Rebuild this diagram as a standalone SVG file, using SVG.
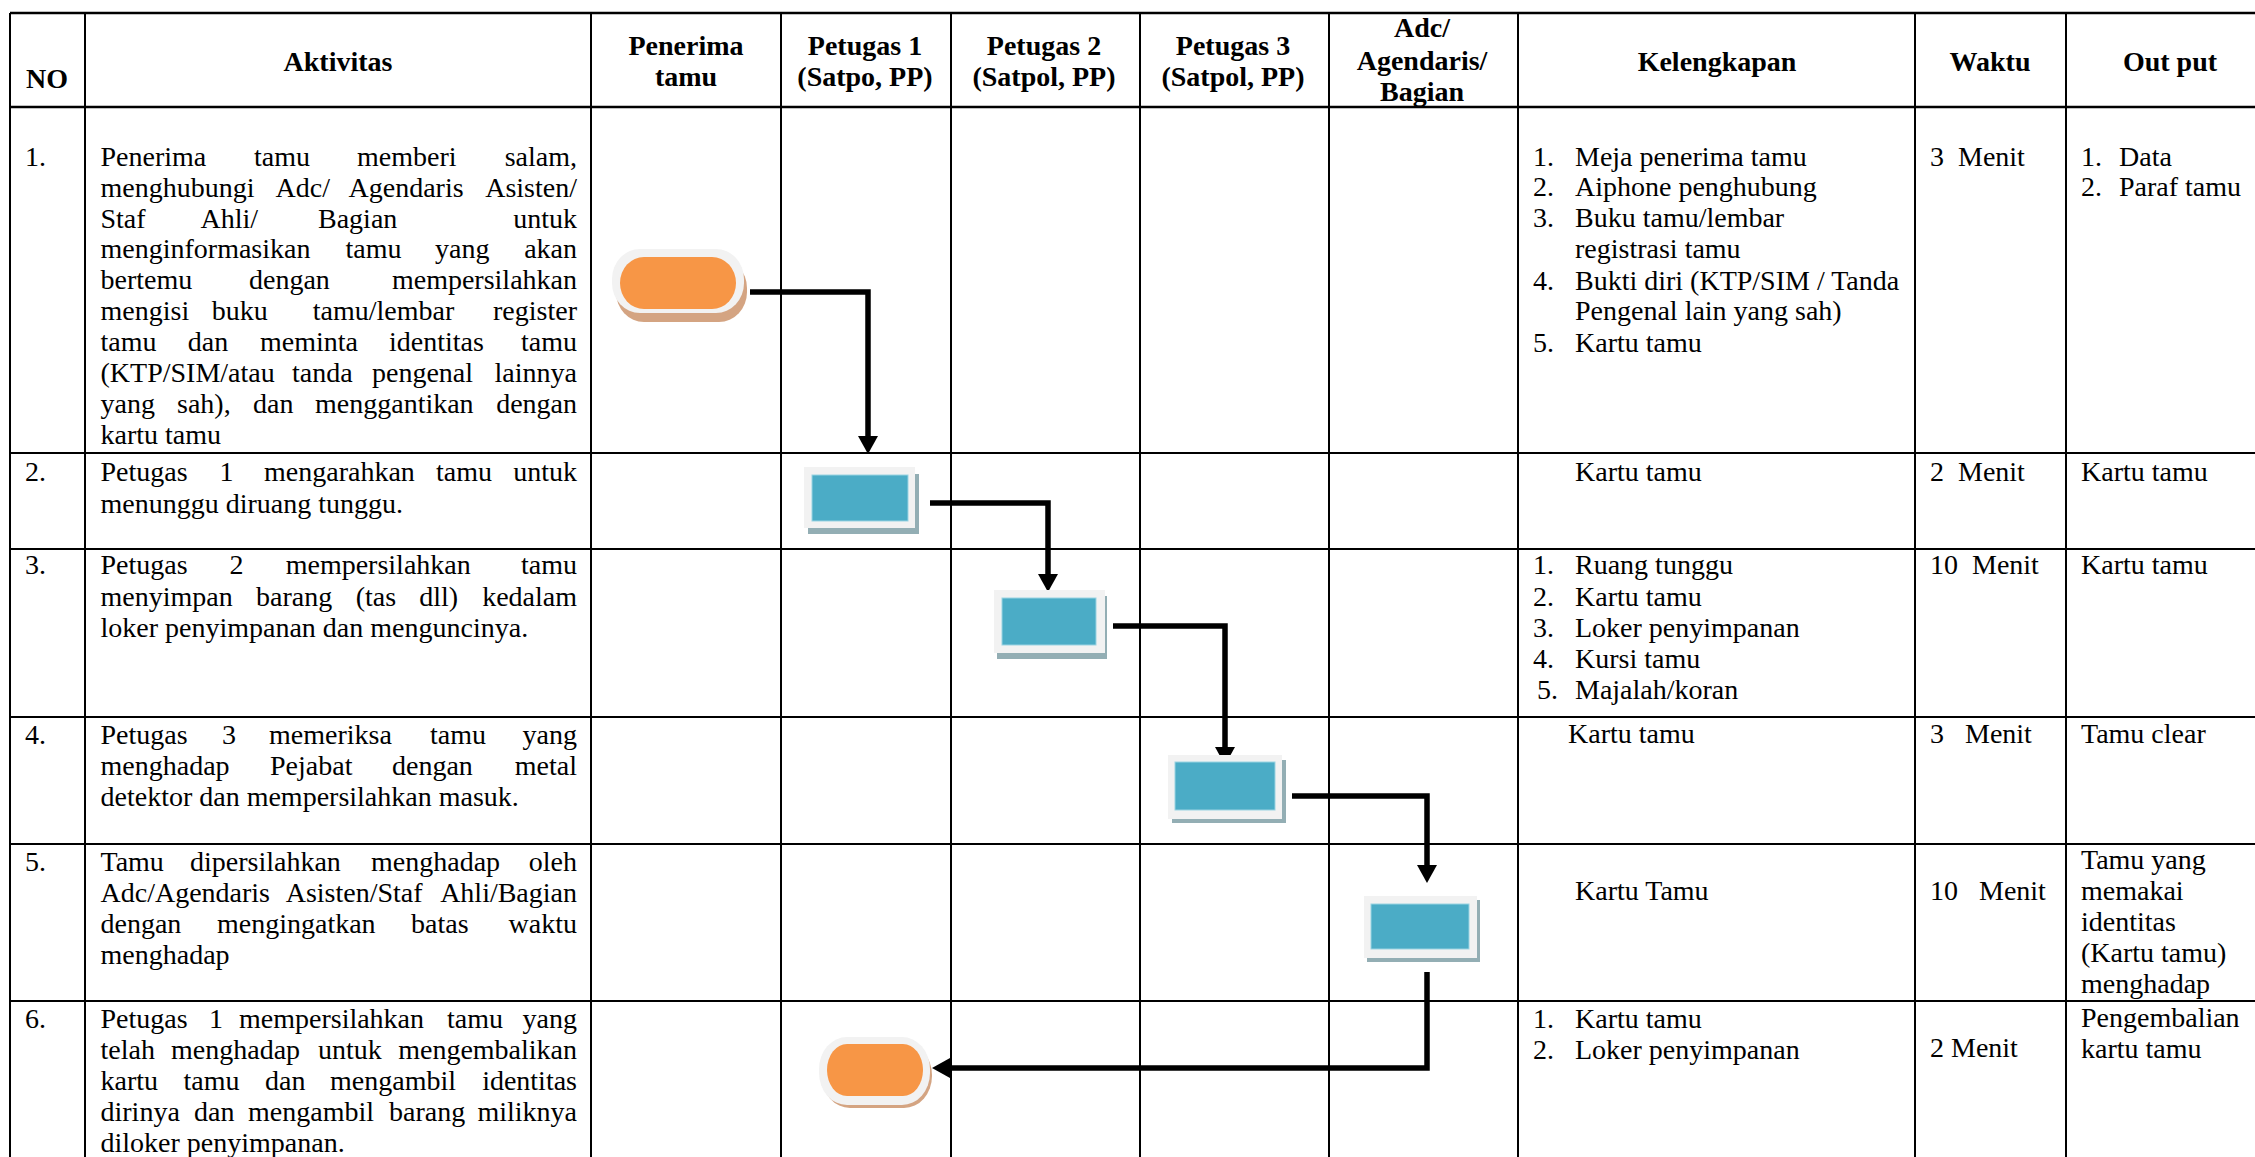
<svg xmlns="http://www.w3.org/2000/svg" width="2255" height="1157" viewBox="0 0 2255 1157">
<style>
.g{stroke:#000;stroke-width:2;fill:none}
.gt{stroke:#000;stroke-width:2.6;fill:none}
text{font-family:"Liberation Serif","Times New Roman",serif;font-size:28px;fill:#000}
.h{font-weight:bold;text-anchor:middle}
.e{text-anchor:end}
.pre{white-space:pre}
.frame{fill:#F2F2F2}
.osh{fill:#D4A482}
.bsh{fill:#93AEB4}
.or{fill:#F79646}
.bl{fill:#4BACC6;stroke:#9AD3E2;stroke-width:1}
.cn{fill:none;stroke:#000;stroke-width:5.5;stroke-linejoin:miter;stroke-linecap:butt;marker-end:url(#ah)}
</style>
<defs>
<marker id="ah" markerUnits="userSpaceOnUse" markerWidth="18" markerHeight="20" viewBox="0 0 18 20" refX="0" refY="10" orient="auto"><path d="M0,0 L18,10 L0,20 z" fill="#000"/></marker>
</defs>
<rect width="2255" height="1157" fill="#fff"/>

<g id="grid">
<path class="gt" d="M10,13 H2255 M10,107 H2255"/>
<path class="g" d="M10,453 H2255 M10,549 H2255 M10,717 H2255 M10,844 H2255 M10,1001 H2255"/>
<path class="g" d="M10,13 V1157 M85,13 V1157 M591,13 V1157 M781,13 V1157 M951,13 V1157 M1140,13 V1157 M1329,13 V1157 M1518,13 V1157 M1915,13 V1157 M2066,13 V1157"/>
</g>

<g id="header">
<text class="h" x="47" y="88">NO</text>
<text class="h" x="338" y="71">Aktivitas</text>
<text class="h" x="686" y="55">Penerima</text>
<text class="h" x="686" y="86">tamu</text>
<text class="h" x="865" y="55">Petugas 1</text>
<text class="h" x="865" y="86">(Satpo, PP)</text>
<text class="h" x="1044" y="55">Petugas 2</text>
<text class="h" x="1044" y="86">(Satpol, PP)</text>
<text class="h" x="1233" y="55">Petugas 3</text>
<text class="h" x="1233" y="86">(Satpol, PP)</text>
<text class="h" x="1422" y="37">Adc/</text>
<text class="h" x="1422" y="70">Agendaris/</text>
<text class="h" x="1422" y="101">Bagian</text>
<text class="h" x="1717" y="71">Kelengkapan</text>
<text class="h" x="1990" y="71">Waktu</text>
<text class="h" x="2170" y="71">Out put</text>
</g>

<g id="row1">
<text x="25" y="166">1.</text>
<text y="166"><tspan x="100.5">Penerima</tspan><tspan x="254">tamu</tspan><tspan x="357">memberi</tspan><tspan class="e" x="577">salam,</tspan></text>
<text y="197"><tspan x="100.5">menghubungi</tspan><tspan x="275.5">Adc/</tspan><tspan x="348.5">Agendaris</tspan><tspan class="e" x="577">Asisten/</tspan></text>
<text y="228"><tspan x="100.5">Staf</tspan><tspan x="200.5">Ahli/</tspan><tspan x="318">Bagian</tspan><tspan class="e" x="577">untuk</tspan></text>
<text y="258"><tspan x="100.5">menginformasikan</tspan><tspan x="345.5">tamu</tspan><tspan x="435">yang</tspan><tspan class="e" x="577">akan</tspan></text>
<text y="289"><tspan x="100.5">bertemu</tspan><tspan x="249">dengan</tspan><tspan class="e" x="577">mempersilahkan</tspan></text>
<text y="320"><tspan x="100.5">mengisi</tspan><tspan x="211.7">buku</tspan><tspan x="312.8">tamu/lembar</tspan><tspan class="e" x="577">register</tspan></text>
<text y="351"><tspan x="100.5">tamu</tspan><tspan x="187.8">dan</tspan><tspan x="260">meminta</tspan><tspan x="389">identitas</tspan><tspan class="e" x="577">tamu</tspan></text>
<text y="382"><tspan x="100.5">(KTP/SIM/atau</tspan><tspan x="292">tanda</tspan><tspan x="372">pengenal</tspan><tspan class="e" x="577">lainnya</tspan></text>
<text y="413"><tspan x="100.5">yang</tspan><tspan x="177">sah),</tspan><tspan x="253">dan</tspan><tspan x="315">menggantikan</tspan><tspan class="e" x="577">dengan</tspan></text>
<text x="100.5" y="444">kartu tamu</text>
<text x="1533" y="166">1.</text><text x="1575" y="166">Meja penerima tamu</text>
<text x="1533" y="196">2.</text><text x="1575" y="196">Aiphone penghubung</text>
<text x="1533" y="227">3.</text><text x="1575" y="227">Buku tamu/lembar</text>
<text x="1575" y="258">registrasi tamu</text>
<text x="1533" y="290">4.</text><text x="1575" y="290">Bukti diri (KTP/SIM / Tanda</text>
<text x="1575" y="320">Pengenal lain yang sah)</text>
<text x="1533" y="352">5.</text><text x="1575" y="352">Kartu tamu</text>
<text class="pre" x="1930" y="166">3  Menit</text>
<text x="2081" y="166">1.</text><text x="2119" y="166">Data</text>
<text x="2081" y="196">2.</text><text x="2119" y="196">Paraf tamu</text>
</g>

<g id="row2">
<text x="25" y="481">2.</text>
<text y="481"><tspan x="100.5">Petugas</tspan><tspan x="219.4">1</tspan><tspan x="264">mengarahkan</tspan><tspan x="436">tamu</tspan><tspan class="e" x="577">untuk</tspan></text>
<text x="100.5" y="513">menunggu diruang tunggu.</text>
<text x="1575" y="481">Kartu tamu</text>
<text class="pre" x="1930" y="481">2  Menit</text>
<text x="2081" y="481">Kartu tamu</text>
</g>

<g id="row3">
<text x="25" y="574">3.</text>
<text y="574"><tspan x="100.5">Petugas</tspan><tspan x="229.6">2</tspan><tspan x="285.7">mempersilahkan</tspan><tspan class="e" x="577">tamu</tspan></text>
<text y="606"><tspan x="100.5">menyimpan</tspan><tspan x="256">barang</tspan><tspan x="355.7">(tas</tspan><tspan x="419.3">dll)</tspan><tspan class="e" x="577">kedalam</tspan></text>
<text x="100.5" y="637">loker penyimpanan dan menguncinya.</text>
<text x="1533" y="574">1.</text><text x="1575" y="574">Ruang tunggu</text>
<text x="1533" y="606">2.</text><text x="1575" y="606">Kartu tamu</text>
<text x="1533" y="637">3.</text><text x="1575" y="637">Loker penyimpanan</text>
<text x="1533" y="668">4.</text><text x="1575" y="668">Kursi tamu</text>
<text x="1537" y="699">5.</text><text x="1575" y="699">Majalah/koran</text>
<text class="pre" x="1930" y="574">10  Menit</text>
<text x="2081" y="574">Kartu tamu</text>
</g>

<g id="row4">
<text x="25" y="744">4.</text>
<text y="744"><tspan x="100.5">Petugas</tspan><tspan x="222">3</tspan><tspan x="269">memeriksa</tspan><tspan x="430">tamu</tspan><tspan class="e" x="577">yang</tspan></text>
<text y="775"><tspan x="100.5">menghadap</tspan><tspan x="270">Pejabat</tspan><tspan x="392">dengan</tspan><tspan class="e" x="577">metal</tspan></text>
<text x="100.5" y="806">detektor dan mempersilahkan masuk.</text>
<text x="1568" y="743">Kartu tamu</text>
<text class="pre" x="1930" y="743">3   Menit</text>
<text x="2081" y="743">Tamu clear</text>
</g>

<g id="row5">
<text x="25" y="871">5.</text>
<text y="871"><tspan x="100.5">Tamu</tspan><tspan x="190">dipersilahkan</tspan><tspan x="371">menghadap</tspan><tspan class="e" x="577">oleh</tspan></text>
<text y="902"><tspan x="100.5">Adc/Agendaris</tspan><tspan x="285.7">Asisten/Staf</tspan><tspan class="e" x="577">Ahli/Bagian</tspan></text>
<text y="933"><tspan x="100.5">dengan</tspan><tspan x="217">mengingatkan</tspan><tspan x="411">batas</tspan><tspan class="e" x="577">waktu</tspan></text>
<text x="100.5" y="964">menghadap</text>
<text x="1575" y="900">Kartu Tamu</text>
<text class="pre" x="1930" y="900">10   Menit</text>
<text x="2081" y="869">Tamu yang</text>
<text x="2081" y="900">memakai</text>
<text x="2081" y="931">identitas</text>
<text x="2081" y="962">(Kartu tamu)</text>
<text x="2081" y="993">menghadap</text>
</g>

<g id="row6">
<text x="25" y="1028">6.</text>
<text y="1028"><tspan x="100.5">Petugas</tspan><tspan x="209">1</tspan><tspan x="239">mempersilahkan</tspan><tspan x="447">tamu</tspan><tspan class="e" x="577">yang</tspan></text>
<text y="1059"><tspan x="100.5">telah</tspan><tspan x="171">menghadap</tspan><tspan x="318">untuk</tspan><tspan class="e" x="577">mengembalikan</tspan></text>
<text y="1090"><tspan x="100.5">kartu</tspan><tspan x="183.5">tamu</tspan><tspan x="265">dan</tspan><tspan x="330">mengambil</tspan><tspan class="e" x="577">identitas</tspan></text>
<text y="1121"><tspan x="100.5">dirinya</tspan><tspan x="194">dan</tspan><tspan x="248">mengambil</tspan><tspan x="389">barang</tspan><tspan class="e" x="577">miliknya</tspan></text>
<text x="100.5" y="1152">diloker penyimpanan.</text>
<text x="1533" y="1028">1.</text><text x="1575" y="1028">Kartu tamu</text>
<text x="1533" y="1059">2.</text><text x="1575" y="1059">Loker penyimpanan</text>
<text x="1930" y="1057">2 Menit</text>
<text x="2081" y="1027">Pengembalian</text>
<text x="2081" y="1058">kartu tamu</text>
</g>

<g id="connectors">
<path class="cn" d="M750,292 H868 V436"/>
<path class="cn" d="M930,503 H1048 V574"/>
<path class="cn" d="M1113,626 H1225 V747"/>
<path class="cn" d="M1292,796 H1427 V865"/>
<path class="cn" d="M1427,972 V1068 H950"/>
</g>

<g id="start">
<rect class="osh" x="616" y="258" width="131" height="64" rx="28" ry="30"/>
<rect class="frame" x="612" y="249" width="132" height="64" rx="28" ry="30"/>
<rect class="or" x="620" y="257" width="116" height="52" rx="24" ry="26"/>
</g>
<g id="petugas1">
<rect class="bsh" x="808" y="474" width="111" height="60"/>
<rect class="frame" x="804" y="467" width="111" height="61"/>
<rect class="bl" x="812" y="475" width="96" height="46"/>
</g>
<g id="petugas2">
<rect class="bsh" x="997" y="596" width="110" height="63"/>
<rect class="frame" x="994" y="590" width="111" height="63"/>
<rect class="bl" x="1002" y="598" width="94" height="47"/>
</g>
<g id="petugas3">
<rect class="bsh" x="1172" y="760" width="114" height="63"/>
<rect class="frame" x="1168" y="755" width="114" height="64"/>
<rect class="bl" x="1175" y="762" width="100" height="48"/>
</g>
<g id="adc">
<rect class="bsh" x="1367" y="900" width="113" height="62"/>
<rect class="frame" x="1364" y="896" width="113" height="62"/>
<rect class="bl" x="1371" y="904" width="98" height="45"/>
</g>
<g id="end">
<rect class="osh" x="822" y="1043" width="110" height="65" rx="28" ry="32"/>
<rect class="frame" x="819" y="1037" width="111" height="68" rx="28" ry="32"/>
<rect class="or" x="827" y="1044" width="96" height="52" rx="20" ry="26"/>
</g>
</svg>
